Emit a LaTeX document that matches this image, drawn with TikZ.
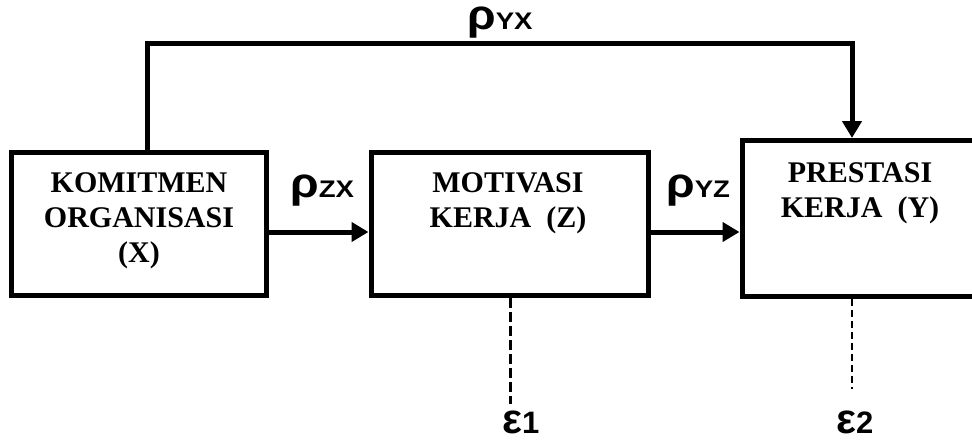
\documentclass[tikz,border=0pt]{standalone}
\usepackage{fontspec}
\setmainfont{Liberation Serif}
\setsansfont{Liberation Sans}
\newfontfamily\rhofont[FakeStretch=1.1]{Liberation Sans Bold}
\newfontfamily\subfont[FakeStretch=1.15]{Liberation Sans Bold}
\newfontfamily\epsfont{Liberation Sans Bold}
\usetikzlibrary{arrows.meta}
\newcommand{\rholab}[1]{{\rhofont\fontsize{42}{42}\selectfont ρ}{\subfont\fontsize{24}{24}\selectfont #1}}
\newcommand{\epslab}[1]{{\epsfont\fontsize{42}{42}\selectfont ε}{\epsfont\fontsize{31}{31}\selectfont #1}}
\begin{document}
\begin{tikzpicture}[x=1pt,y=-1pt,
  box/.style={draw, line width=5pt, rectangle, inner sep=0pt, line join=miter},
  btext/.style={align=center, font=\fontsize{30}{35}\selectfont\bfseries, inner sep=0pt, anchor=north},
  conn/.style={line width=5pt, line join=miter, -{Triangle[length=17pt,width=19pt]}},
  coef/.style={inner sep=0pt, anchor=base west},
  dashA/.style={line width=3pt, dash pattern=on 10pt off 4pt},
  dashB/.style={line width=2pt, dash pattern=on 7pt off 4pt}
]
\useasboundingbox (0,0) rectangle (972,440);
% boxes
\node[box, minimum width=255pt, minimum height=143pt] (X) at (139,224) {};
\node[box, minimum width=277pt, minimum height=143pt] (Z) at (509.5,224) {};
\node[box, minimum width=236pt, minimum height=155.5pt] (Y) at (860,218.25) {};
% box texts
\node[btext] (Xt) at (139,172) {KOMITMEN\\ORGANISASI\\(X)};
\node[btext] (Zt) at (508,172) {MOTIVASI\\KERJA\ \ (Z)};
\node[btext] (Yt) at (860,162) {PRESTASI\\KERJA\ \ (Y)};
% helper coordinates
\coordinate (c1) at (147,43.5);
\coordinate (c2) at (852,43.5);
\coordinate (a1) at (0,232);
\coordinate (e1) at (510,404);
\coordinate (e2) at (852,389);
% connectors
\draw[conn] (X.north -| c1) |- (c2) -- (Y.north -| c2);
\draw[conn] (X.east |- a1) -- (Z.west |- a1);
\draw[conn] (Z.east |- a1) -- (Y.west |- a1);
\draw[dashA] (Z.south -| e1) -- (e1);
\draw[dashB] (Y.south -| e2) -- (e2);
% coefficient labels
\node[coef] (ryx) at (467,29) {\rholab{YX}};
\node[coef] (rzx) at (290,197) {\rholab{ZX}};
\node[coef] (ryz) at (666,197) {\rholab{YZ}};
\node[coef] (eps1) at (502,433) {\epslab{1}};
\node[coef] (eps2) at (836,433) {\epslab{2}};
\end{tikzpicture}
\end{document}
